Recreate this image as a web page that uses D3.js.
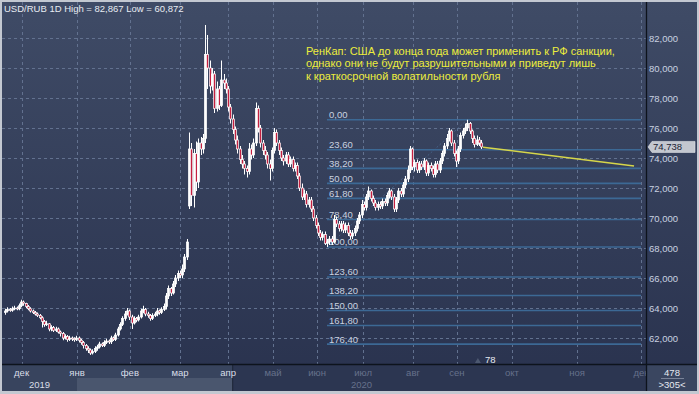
<!DOCTYPE html>
<html>
<head>
<meta charset="utf-8">
<script src="https://cdn.jsdelivr.net/npm/d3@7"></script>
<style>
  body { margin: 0; background: #2c3652; }
  svg { display: block; font-family: "Liberation Sans", Arial, sans-serif; }
</style>
</head>
<body>
<svg id="chart" width="699" height="394"></svg>
<script>
// USD/RUB daily candles, late Nov 2019 .. late Sep 2020
const opens = [
  63.7,63.8,63.9,63.85,63.95,64.0,63.95,64.15,64.4,64.3,
  64.1,63.95,63.8,63.7,63.6,63.5,63.35,63.1,62.9,62.95,
  62.6,62.7,62.5,62.6,62.4,62.3,62.0,62.1,61.9,62.0,
  61.95,61.9,62.0,61.85,61.7,61.5,61.3,61.2,61.0,61.1,
  61.3,61.4,61.6,61.5,61.7,61.8,61.75,62.0,61.9,62.2,
  62.6,62.9,63.3,63.6,63.8,63.4,63.0,63.3,63.2,63.4,
  63.8,63.9,63.6,63.5,63.3,63.5,63.6,63.8,63.7,63.9,
  64.1,64.8,65.3,65.0,65.6,66.0,66.3,66.2,66.6,67.4,
  70.8,74.6,71.5,74.3,72.4,75.0,74.6,75.3,80.9,80.0,
  78.8,79.6,77.3,78.6,77.5,79.2,79.0,78.6,77.4,76.6,
  75.9,75.2,74.6,73.9,73.6,73.3,73.1,74.6,74.2,75.0,
  77.3,76.0,75.0,74.5,74.2,73.6,73.3,74.5,75.7,75.0,
  74.5,74.0,73.8,74.2,73.6,73.9,73.3,73.5,72.8,72.0,
  71.4,71.6,70.9,71.2,70.6,70.0,69.5,69.0,68.7,68.9,
  68.3,68.4,68.6,68.4,69.9,69.6,69.3,69.6,69.2,69.5,
  69.0,68.8,69.0,69.3,69.8,70.2,70.9,70.7,71.4,71.8,
  71.3,71.0,70.7,70.9,70.8,71.1,71.0,71.5,71.8,71.4,
  70.6,71.2,71.8,71.6,72.2,72.6,73.2,74.6,73.4,73.7,
  73.2,73.6,73.4,73.8,73.0,73.5,73.3,72.9,73.6,73.2,
  73.8,74.3,74.8,75.3,75.8,75.0,74.3,73.8,74.6,75.5,
  75.8,76.0,76.3,75.8,75.3,74.9,75.2,75.0
];
const highs = [
  63.95,64.05,64.0,64.1,64.15,64.1,64.3,64.55,64.5,64.35,
  64.2,64.05,63.9,63.8,63.7,63.6,63.45,63.2,63.15,63.0,
  62.85,62.8,62.75,62.7,62.5,62.4,62.25,62.2,62.15,62.1,
  62.05,62.15,62.1,61.95,61.8,61.6,61.45,61.3,61.25,61.45,
  61.55,61.75,61.7,61.85,61.95,61.9,62.15,62.1,62.35,62.75,
  63.05,63.45,63.8,64.0,63.9,63.55,63.45,63.4,63.55,63.95,
  64.15,64.0,63.75,63.6,63.65,63.75,64.0,63.9,64.05,64.3,
  65.0,65.5,65.4,65.8,66.2,66.5,66.5,66.9,67.6,68.6,
  75.7,75.0,74.6,75.1,75.3,75.4,75.6,82.867,82.2,80.5,
  80.0,79.8,79.1,78.8,80.5,79.6,79.3,78.8,77.6,76.9,
  76.1,75.5,74.8,74.2,73.8,73.5,75.0,74.9,75.3,77.7,
  77.5,76.2,75.2,74.8,74.4,73.9,74.7,76.0,75.9,75.2,
  74.7,74.2,74.4,74.4,74.1,74.1,73.7,73.7,73.0,72.3,
  71.9,71.8,71.4,71.4,70.8,70.2,69.7,69.2,69.1,69.1,
  68.6,68.8,68.8,70.2,70.1,69.8,69.8,69.8,69.7,69.7,
  69.2,69.2,69.5,70.0,70.4,71.2,71.1,71.6,72.1,71.9,
  71.5,71.2,71.1,71.1,71.3,71.3,71.7,72.0,71.9,71.6,
  71.4,72.0,72.0,72.4,72.8,73.5,74.8,74.7,73.9,73.9,
  73.8,73.8,74.0,73.9,73.7,73.7,73.5,73.8,73.8,74.0,
  74.5,75.0,75.6,76.0,75.9,75.2,74.5,74.8,75.7,76.0,
  76.3,76.55,76.4,75.9,75.5,75.5,75.4,75.2
];
const lows = [
  63.55,63.7,63.75,63.75,63.85,63.85,63.85,64.05,64.15,64.0,
  63.85,63.7,63.6,63.5,63.4,63.25,62.7,62.75,62.8,62.45,
  62.45,62.4,62.4,62.3,62.1,61.85,61.9,61.75,61.8,61.8,
  61.75,61.8,61.7,61.55,61.3,61.15,61.0,60.872,60.9,61.0,
  61.15,61.3,61.4,61.4,61.6,61.6,61.6,61.8,61.8,62.1,
  62.5,62.8,63.15,63.5,63.2,62.6,62.9,63.05,63.1,63.3,
  63.65,63.45,63.35,63.15,63.2,63.4,63.45,63.55,63.6,63.8,
  63.9,64.6,64.8,64.9,65.4,65.8,66.0,66.0,66.4,67.2,
  70.6,70.8,70.7,71.8,72.0,74.2,74.3,75.0,78.6,78.3,
  78.5,77.0,77.1,77.2,77.4,78.6,78.3,77.1,76.3,75.6,
  74.9,74.3,73.6,73.3,72.9,72.7,72.9,73.9,74.0,74.8,
  75.7,74.7,74.2,73.9,73.3,72.5,73.1,74.3,74.8,74.2,
  73.8,73.5,73.6,73.4,73.4,73.1,73.1,72.6,71.8,71.2,
  71.2,70.7,70.7,70.4,69.8,69.3,68.8,68.5,68.5,68.2,
  68.07,68.2,68.2,68.3,69.4,69.1,69.1,69.0,69.0,68.8,
  68.6,68.6,68.8,69.1,69.6,70.0,70.5,70.5,71.2,71.1,
  70.8,70.5,70.5,70.6,70.6,70.8,70.8,71.3,71.2,70.4,
  70.4,71.0,71.4,71.4,72.0,72.4,73.0,73.2,73.1,73.0,
  73.0,73.2,73.2,72.8,72.8,73.1,72.7,72.7,73.0,73.0,
  73.6,74.1,74.6,75.1,74.8,74.1,73.4,73.6,74.4,75.3,
  75.6,75.8,75.6,75.0,74.7,74.8,74.8,74.6
];
const closes = [
  63.8,63.9,63.85,63.95,64.0,63.95,64.15,64.4,64.3,64.1,
  63.95,63.8,63.7,63.6,63.5,63.35,63.1,62.9,62.95,62.6,
  62.7,62.5,62.6,62.4,62.3,62.0,62.1,61.9,62.0,61.95,
  61.9,62.0,61.85,61.7,61.5,61.3,61.2,61.0,61.1,61.3,
  61.4,61.6,61.5,61.7,61.8,61.75,62.0,61.9,62.2,62.6,
  62.9,63.3,63.6,63.8,63.4,63.0,63.3,63.2,63.4,63.8,
  63.9,63.6,63.5,63.3,63.5,63.6,63.8,63.7,63.9,64.1,
  64.8,65.3,65.0,65.6,66.0,66.3,66.2,66.6,67.4,68.4,
  74.6,71.5,74.3,72.4,75.0,74.6,75.3,80.9,80.0,78.8,
  79.6,77.3,78.6,77.5,79.2,79.0,78.6,77.4,76.6,75.9,
  75.2,74.6,73.9,73.6,73.3,73.1,74.6,74.2,75.0,77.3,
  76.0,75.0,74.5,74.2,73.6,73.3,74.5,75.7,75.0,74.5,
  74.0,73.8,74.2,73.6,73.9,73.3,73.5,72.8,72.0,71.4,
  71.6,70.9,71.2,70.6,70.0,69.5,69.0,68.7,68.9,68.3,
  68.4,68.6,68.4,69.9,69.6,69.3,69.6,69.2,69.5,69.0,
  68.8,69.0,69.3,69.8,70.2,70.9,70.7,71.4,71.8,71.3,
  71.0,70.7,70.9,70.8,71.1,71.0,71.5,71.8,71.4,70.6,
  71.2,71.8,71.6,72.2,72.6,73.2,74.6,73.4,73.7,73.2,
  73.6,73.4,73.8,73.0,73.5,73.3,72.9,73.6,73.2,73.8,
  74.3,74.8,75.3,75.8,75.0,74.3,73.8,74.6,75.5,75.8,
  76.0,76.3,75.8,75.3,74.9,75.2,75.0,74.738
];

// right price axis
const priceTicks = [62, 64, 66, 68, 70, 72, 74, 76, 78, 80, 82];
const lastPrice = 74.738;

// bottom time axis: month starts as bar positions
const months = ["дек", "янв", "фев", "мар", "апр", "май", "июн", "июл", "авг", "сен", "окт", "ноя", "дек"];
const monthBars = [7.2, 31.3, 54.3, 76.1, 97, 116.5, 135.7, 155.7, 177.4, 196.5, 220.4, 248.7, 276.5];
const years = ["2019", "2020"];
const yearStartBars = [-1.3, 31.3];
const shadeFromBar = 99;

// fibonacci levels drawn from the July low to the September high
const fibLevels = [0, 23.6, 38.2, 50, 61.8, 78.4, 100, 123.6, 138.2, 150, 161.8, 176.4];
const fibLowBar = 140, fibLow = 68.07;
const fibHighBar = 201, fibHigh = 76.55;

// yellow forecast line
const forecastBars = [207.8, 273.5];
const forecastPrices = [74.72, 73.47];

const note = [
  "РенКап: США до конца года может применить к РФ санкции,",
  "однако они не будут разрушительными и приведут  лишь",
  "к краткосрочной волатильности рубля"
];
const title = "USD/RUB 1D High = 82,867 Low = 60,872";
const markerBar = 205.6, markerText = "78";
const barCount = "478", visibleCount = ">305<";

const width = 699;
const height = 394;
const plotBox = { left: 2, right: 646, top: 2, bottom: 364 };

const svg = d3.select("svg#chart");

let x = d3.scaleLinear().domain([0, 207]).range([5, 481.1]);
let y = d3.scaleLinear().domain([62, 82]).range([338, 38]);

const comma = d3.formatLocale({ decimal: ",", thousands: " ", grouping: [3], currency: ["", ""] });
const fmt3 = comma.format(".3f");
const fmt2 = comma.format(".2f");

// frame and backgrounds
const defs = svg.append("defs");
const grad = defs.append("linearGradient").attr("id", "bg").attr("x1", 0).attr("y1", 0).attr("x2", 0).attr("y2", 1);
grad.append("stop").attr("offset", "0%").attr("stop-color", "#3f4b66");
grad.append("stop").attr("offset", "100%").attr("stop-color", "#29324e");

defs.append("clipPath").attr("id", "plotClip")
  .append("rect")
  .attr("x", plotBox.left).attr("y", plotBox.top)
  .attr("width", plotBox.right - plotBox.left).attr("height", plotBox.bottom - plotBox.top);

defs.append("clipPath").attr("id", "axisClip")
  .append("rect")
  .attr("x", plotBox.left).attr("y", plotBox.bottom)
  .attr("width", plotBox.right - plotBox.left).attr("height", 28);

svg.append("rect").attr("width", width).attr("height", height).attr("fill", "#c3c8d1");
svg.append("rect").attr("x", 2).attr("y", 2).attr("width", width - 4).attr("height", 389).attr("fill", "url(#bg)");

// bottom axis background
const bottom = svg.append("g").attr("id", "time-axis");
bottom.append("rect").attr("x", plotBox.left).attr("y", plotBox.bottom).attr("width", plotBox.right - plotBox.left).attr("height", 27).attr("fill", "#38445e");
bottom.append("rect").attr("x", x(yearStartBars[1])).attr("y", 378).attr("width", plotBox.right - x(yearStartBars[1])).attr("height", 13).attr("fill", "#4a566e");
bottom.append("rect").attr("x", x(shadeFromBar)).attr("y", plotBox.bottom).attr("width", plotBox.right - x(shadeFromBar)).attr("height", 27).attr("fill", "#2c3651");
bottom.append("line").attr("x1", x(shadeFromBar)).attr("x2", x(shadeFromBar)).attr("y1", plotBox.bottom).attr("y2", 391).attr("stroke", "#1c2436").attr("stroke-width", 1);

const axisText = bottom.append("g").attr("clip-path", "url(#axisClip)");
axisText.selectAll("text.month").data(months).join("text")
  .attr("class", "month")
  .attr("x", (d, i) => x(monthBars[i]))
  .attr("y", 376)
  .attr("text-anchor", "middle")
  .attr("font-size", "9.5px")
  .attr("fill", (d, i) => monthBars[i] < shadeFromBar ? "#d9dee8" : "#66718b")
  .text(d => d);

axisText.selectAll("text.year").data(years).join("text")
  .attr("class", "year")
  .attr("x", (d, i) => {
    const end = i + 1 < yearStartBars.length ? x(yearStartBars[i + 1]) : plotBox.right;
    return (x(yearStartBars[i]) + end) / 2;
  })
  .attr("y", 388)
  .attr("text-anchor", "middle")
  .attr("font-size", "9.5px")
  .attr("fill", (d, i) => i === 0 ? "#d9dee8" : "#66718b")
  .text(d => d);

// right-bottom counter box
svg.append("rect").attr("x", plotBox.right + 1).attr("y", plotBox.bottom).attr("width", 50).attr("height", 27).attr("fill", "#3a4660");
svg.append("text").attr("x", 672).attr("y", 376).attr("text-anchor", "middle").attr("font-size", "9.5px").attr("fill", "#e6eaf0").text(barCount);
svg.append("line").attr("x1", 661).attr("x2", 684).attr("y1", 378.5).attr("y2", 378.5).attr("stroke", "#8a94a8").attr("stroke-width", 0.8);
svg.append("text").attr("x", 672).attr("y", 388).attr("text-anchor", "middle").attr("font-size", "9.5px").attr("fill", "#e6eaf0").text(visibleCount);

// plot
const plot = svg.append("g").attr("id", "plot").attr("clip-path", "url(#plotClip)");

// grid
plot.append("g").selectAll("line").data(priceTicks).join("line")
  .attr("x1", plotBox.left).attr("x2", plotBox.right)
  .attr("y1", d => Math.round(y(d)) + 0.5).attr("y2", d => Math.round(y(d)) + 0.5)
  .attr("stroke", "#62718f").attr("stroke-width", 1).attr("stroke-dasharray", "3,3");

plot.append("g").selectAll("line").data(monthBars).join("line")
  .attr("x1", d => Math.round(x(d)) + 0.5).attr("x2", d => Math.round(x(d)) + 0.5)
  .attr("y1", plotBox.top).attr("y2", plotBox.bottom)
  .attr("stroke", "#62718f").attr("stroke-width", 1).attr("stroke-dasharray", "3,3");

// fibonacci
const fibPrice = lvl => fibHigh - (fibHigh - fibLow) * lvl / 100;
const fib = plot.append("g").attr("id", "fib");
fib.append("line")
  .attr("x1", x(fibLowBar)).attr("y1", y(fibLow))
  .attr("x2", x(fibHighBar)).attr("y2", y(fibHigh))
  .attr("stroke", "#4f74a0").attr("stroke-opacity", 0.6).attr("stroke-width", 1).attr("stroke-dasharray", "2,2");
fib.selectAll("line.level").data(fibLevels).join("line")
  .attr("class", "level")
  .attr("x1", x(fibLowBar)).attr("x2", 641)
  .attr("y1", d => y(fibPrice(d))).attr("y2", d => y(fibPrice(d)))
  .attr("stroke", "#3c6995").attr("stroke-width", 1.6);
fib.selectAll("text").data(fibLevels).join("text")
  .attr("x", x(fibLowBar) + 2)
  .attr("y", d => y(fibPrice(d)) - 1.5)
  .attr("font-size", "9.5px")
  .attr("fill", "#c9d2e0")
  .text(d => fmt2(d));

// candles
const candles = closes.map((c, i) => ({ i: i, o: opens[i], h: highs[i], l: lows[i], c: c }));
const candleG = plot.append("g").attr("id", "candles");
candleG.selectAll("line").data(candles).join("line")
  .attr("x1", d => Math.round(x(d.i)) + 0.5).attr("x2", d => Math.round(x(d.i)) + 0.5)
  .attr("y1", d => y(d.h)).attr("y2", d => y(d.l))
  .attr("stroke", "#ffffff").attr("stroke-width", 1);
candleG.selectAll("rect").data(candles).join("rect")
  .attr("x", d => Math.round(x(d.i)) - 0.6)
  .attr("width", 2.2)
  .attr("y", d => y(Math.max(d.o, d.c)))
  .attr("height", d => Math.max(1, Math.abs(y(d.o) - y(d.c))))
  .attr("fill", d => d.c >= d.o ? "#ffffff" : "#c42040")
  .attr("stroke", "#ffffff").attr("stroke-width", 0.7);

// forecast line
plot.append("line")
  .attr("x1", x(forecastBars[0])).attr("y1", y(forecastPrices[0]))
  .attr("x2", x(forecastBars[1])).attr("y2", y(forecastPrices[1]))
  .attr("stroke", "#d6d64a").attr("stroke-width", 1.6);

// note
plot.append("g").selectAll("text").data(note).join("text")
  .attr("x", 306)
  .attr("y", (d, i) => 54.5 + i * 12.5)
  .attr("font-size", "11px")
  .attr("fill", "#eded3c")
  .text(d => d);

// title
svg.append("text").attr("x", 4).attr("y", 12).attr("font-size", "9.5px").attr("fill", "#e8ecf2").text(title);

// marker at bottom
const mx = x(markerBar);
svg.append("path").attr("d", `M${mx - 3},363 L${mx},358 L${mx + 3},363 Z`).attr("fill", "#4c5870");
svg.append("text").attr("x", mx + 7).attr("y", 363).attr("font-size", "9.5px").attr("fill", "#e6eaf0").text(markerText);

// right axis
const yAxis = d3.axisRight(y).tickValues(priceTicks).tickFormat(fmt3).tickSize(0).tickPadding(0);
const yGroup = svg.append("g").attr("id", "y-axis").attr("transform", "translate(649,0)").call(yAxis);
yGroup.select(".domain").remove();
yGroup.selectAll("text").attr("font-size", "9.5px").attr("font-family", "Liberation Sans, Arial, sans-serif").attr("fill", "#c9d2e0").attr("dy", "0.32em");

// last price tag
const ty = y(lastPrice);
svg.append("path")
  .attr("d", `M648,${ty} L652,${ty - 5.5} L695,${ty - 5.5} L695,${ty + 5.5} L652,${ty + 5.5} Z`)
  .attr("fill", "#c3c7cf").attr("stroke", "#e4e6ea").attr("stroke-width", 0.6);
svg.append("text").attr("x", 653).attr("y", ty + 3.4).attr("font-size", "9.5px").attr("fill", "#1c2232").text(fmt3(lastPrice));

// separators
svg.append("line").attr("x1", plotBox.right + 0.5).attr("x2", plotBox.right + 0.5).attr("y1", 2).attr("y2", 391).attr("stroke", "#0d131c").attr("stroke-width", 1.3);
svg.append("line").attr("x1", 2).attr("x2", width - 2).attr("y1", plotBox.bottom + 0.5).attr("y2", plotBox.bottom + 0.5).attr("stroke", "#0d131c").attr("stroke-width", 1.3);
</script>
</body>
</html>
